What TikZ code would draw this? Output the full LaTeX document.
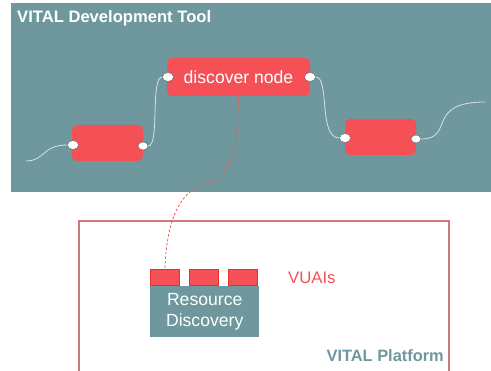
\documentclass[tikz,border=0pt]{standalone}
\usepackage{fontspec}
\setmainfont{Liberation Sans}
\usetikzlibrary{shapes.geometric}
\definecolor{teal1}{RGB}{110,152,158}
\definecolor{nodered}{RGB}{245,80,86}
\definecolor{vuaiedge}{RGB}{232,50,35}
\definecolor{platedge}{RGB}{205,120,125}
\definecolor{wire}{RGB}{215,225,228}
\begin{document}
\begin{tikzpicture}[x=1pt,y=-1pt,
  flownode/.style={fill=nodered,rounded corners=5pt,inner sep=0pt,text=white,font=\fontsize{17.6}{18}\selectfont},
  port/.style={ellipse,fill=white,draw=teal1!70!black,line width=0.4pt,minimum width=11pt,minimum height=9pt,inner sep=0pt},
  wireline/.style={draw=wire,line width=0.8pt},
  vuai/.style={fill=nodered,draw=vuaiedge,line width=1pt,minimum width=29pt,minimum height=16pt,inner sep=0pt},
  link/.style={draw=vuaiedge!80!white,dashed,dash pattern=on 2.5pt off 2pt,line width=0.8pt}]
\useasboundingbox (0,0) rectangle (491,371);
\fill[white] (0,0) rectangle (491,371);
% top panel
\node[fill=teal1,minimum width=480pt,minimum height=189pt,inner sep=0pt,anchor=north west] (devpanel) at (11,3) {};
\node[anchor=west,inner sep=0pt,text=white,font=\bfseries\fontsize{16.6}{17}\selectfont] (devtitle) at (17,18) {VITAL Development Tool};
% flow nodes
\node[flownode,minimum width=71pt,minimum height=36pt] (left) at (107.5,143) {};
\node[flownode,minimum width=143pt,minimum height=38pt] (disc) at (238.5,77) {discover node};
\node[flownode,minimum width=71pt,minimum height=36pt] (right) at (380.5,137) {};
% ports
\node[port] (lpin) at (73,145) {};
\node[port,minimum width=10pt,minimum height=8pt] (lpout) at (143,146) {};
\node[port] (dpin) at (168,77) {};
\node[port] (dpout) at (310,77) {};
\node[port] (rpin) at (345,138) {};
\node[port,minimum width=10pt,minimum height=8pt] (rpout) at (416,139) {};
\coordinate (lfree) at (26,161);
\coordinate (rfree) at (485,102);
% wires
\draw[wireline] (lfree) .. controls (45,161) and (42,145) .. (lpin.west);
\draw[wireline] (lpout.east) .. controls (160,146) and (150,77) .. (dpin.west);
\draw[wireline] (dpout.east) .. controls (330,77) and (318,138) .. (rpin.west);
\draw[wireline] (rpout.east) .. controls (455,139) and (425,102) .. (rfree);
% platform
\draw[platedge,line width=1.5pt] (79,380) -- (79,221) -- (449,221) -- (449,380);
\node[fill=teal1,minimum width=109pt,minimum height=51pt,inner sep=0pt,anchor=north west,text=white,align=center,font=\fontsize{17.6}{21}\selectfont] (rd) at (150,286) {Resource\\Discovery};
\node[vuai,anchor=south west] (v1) at (150,286) {};
\node[vuai,anchor=south west] (v2) at (189,286) {};
\node[vuai,anchor=south west] (v3) at (228,286) {};
\node[text=nodered,anchor=west,inner sep=0pt,font=\fontsize{16.7}{17}\selectfont] (vuais) at (288,278) {VUAIs};
\node[text=teal1,anchor=east,inner sep=0pt,font=\bfseries\fontsize{16.4}{17}\selectfont] (plat) at (444,356) {VITAL Platform};
% dashed link
\draw[link] (disc.south) .. controls (238,178) and (218,180) .. (200,186) .. controls (176,195) and (166,230) .. (v1.north);
\end{tikzpicture}
\end{document}
